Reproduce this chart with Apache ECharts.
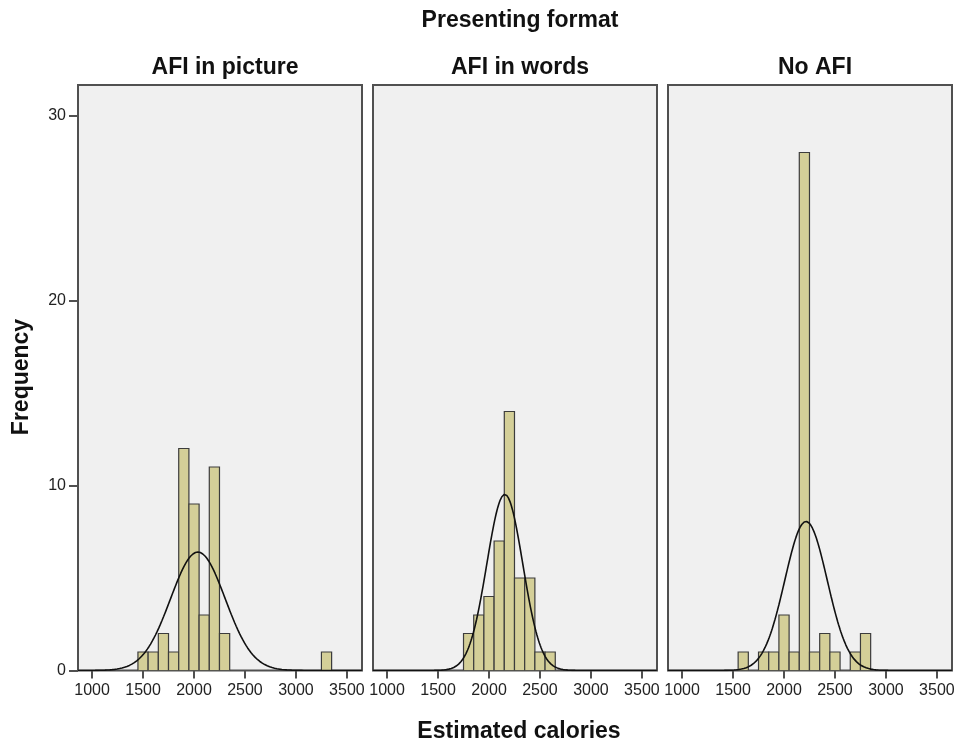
<!DOCTYPE html>
<html>
<head>
<meta charset="utf-8">
<title>Estimated calories by presenting format</title>
<script src="https://cdn.jsdelivr.net/npm/echarts@6/dist/echarts.min.js"></script>
<style>
  html, body { margin: 0; padding: 0; background: #ffffff; }
  #chart { width: 961px; height: 747px; }
</style>
</head>
<body>
<div id="chart"></div>
<script>
// Panel headings (one histogram per presenting format)
const categories = ['AFI in picture', 'AFI in words', 'No AFI'];

// Histogram bins: centre of each 100-calorie bin and its frequency
const binWidth = 100;
const binCentersPicture = [1500, 1600, 1700, 1800, 1900, 2000, 2100, 2200, 2300, 3300];
const countsPicture     = [1, 1, 2, 1, 12, 9, 3, 11, 2, 1];
const binCentersWords   = [1800, 1900, 2000, 2100, 2200, 2300, 2400, 2500, 2600];
const countsWords       = [2, 3, 4, 7, 14, 5, 5, 1, 1];
const binCentersNoAfi   = [1600, 1800, 1900, 2000, 2100, 2200, 2300, 2400, 2500, 2700, 2800];
const countsNoAfi       = [1, 1, 1, 3, 1, 28, 1, 2, 1, 1, 2];

// Fitted normal curve parameters per panel (mean, standard deviation)
const fitMeans = [2038, 2155, 2216];
const fitSds   = [268, 176, 208];

// Axis ticks
const xTicks = [1000, 1500, 2000, 2500, 3000, 3500];
const yTicks = [0, 10, 20, 30];

const binCenters = [binCentersPicture, binCentersWords, binCentersNoAfi];
const counts = [countsPicture, countsWords, countsNoAfi];

const X_MIN = 862, X_MAX = 3648, Y_MAX = 31.65;
const FONT = "'Liberation Sans', Arial, sans-serif";
const FRAME = '#505050';
const TITLE_SIZE = 23;

const panelLefts = [78, 373, 668];
const PANEL_W = 284, TOP = 85, PANEL_H = 585.5;

const grids = [], xAxes = [], yAxes = [], series = [], titles = [];

function normalCurve(i) {
  const n = counts[i].reduce((a, b) => a + b, 0);
  const m = fitMeans[i], s = fitSds[i];
  const pts = [];
  for (let x = X_MIN; x <= X_MAX; x += 8) {
    const z = (x - m) / s;
    pts.push([x, n * binWidth * Math.exp(-0.5 * z * z) / (s * Math.sqrt(2 * Math.PI))]);
  }
  return pts;
}

const plainNumber = v => String(v);

categories.forEach((name, i) => {
  grids.push({
    left: panelLefts[i], top: TOP, width: PANEL_W, height: PANEL_H,
    show: true, backgroundColor: '#f0f0f0', borderColor: FRAME, borderWidth: 2
  });
  xAxes.push({
    type: 'value', gridIndex: i, min: X_MIN, max: X_MAX,
    axisLine: { show: false },
    axisTick: { show: true, length: 8, customValues: xTicks, lineStyle: { color: FRAME, width: 2 } },
    axisLabel: { show: true, customValues: xTicks, formatter: plainNumber, margin: 12,
                 color: '#222', fontSize: 16, fontFamily: FONT },
    splitLine: { show: false }
  });
  yAxes.push({
    type: 'value', gridIndex: i, min: 0, max: Y_MAX,
    axisLine: { show: false },
    axisTick: { show: i === 0, length: 9, customValues: yTicks, lineStyle: { color: FRAME, width: 2 } },
    axisLabel: { show: i === 0, customValues: yTicks, formatter: plainNumber, margin: 12,
                 color: '#222', fontSize: 16, fontFamily: FONT },
    splitLine: { show: false }
  });
  series.push({
    type: 'custom', xAxisIndex: i, yAxisIndex: i, clip: true,
    data: binCenters[i].map((c, k) => [c, counts[i][k]]),
    encode: { x: 0, y: 1 },
    renderItem: (params, api) => {
      const c = api.value(0), n = api.value(1);
      const p0 = api.coord([c - binWidth / 2, n]);
      const p1 = api.coord([c + binWidth / 2, 0]);
      return {
        type: 'rect',
        shape: { x: p0[0], y: p0[1], width: p1[0] - p0[0], height: p1[1] - p0[1] },
        style: { fill: '#d4cf98', stroke: '#3c3c3c', lineWidth: 1.2 }
      };
    },
    z: 2
  });
  series.push({
    type: 'line', xAxisIndex: i, yAxisIndex: i,
    data: normalCurve(i), showSymbol: false, smooth: false,
    lineStyle: { color: '#111', width: 1.6 }, z: 3, silent: true
  });
  titles.push({
    text: name, left: panelLefts[i] + PANEL_W / 2, top: 51, textAlign: 'center',
    textStyle: { fontFamily: FONT, fontSize: TITLE_SIZE, fontWeight: 'bold', color: '#111' }
  });
});

titles.push({
  text: 'Presenting format', left: 515, top: 4, textAlign: 'center',
  textStyle: { fontFamily: FONT, fontSize: TITLE_SIZE, fontWeight: 'bold', color: '#111' }
});
titles.push({
  text: 'Estimated calories', left: 514, top: 715, textAlign: 'center',
  textStyle: { fontFamily: FONT, fontSize: TITLE_SIZE, fontWeight: 'bold', color: '#111' }
});

const chart = echarts.init(document.getElementById('chart'), null, { renderer: 'canvas' });
chart.setOption({
  backgroundColor: '#ffffff',
  animation: false,
  title: titles,
  grid: grids,
  xAxis: xAxes,
  yAxis: yAxes,
  series: series,
  graphic: [{
    type: 'text', x: 22, y: 377, rotation: Math.PI / 2,
    style: {
      text: 'Frequency', fontFamily: FONT, fontSize: TITLE_SIZE, fontWeight: 'bold',
      fill: '#111', align: 'center', verticalAlign: 'middle'
    }
  }]
});
</script>
</body>
</html>
